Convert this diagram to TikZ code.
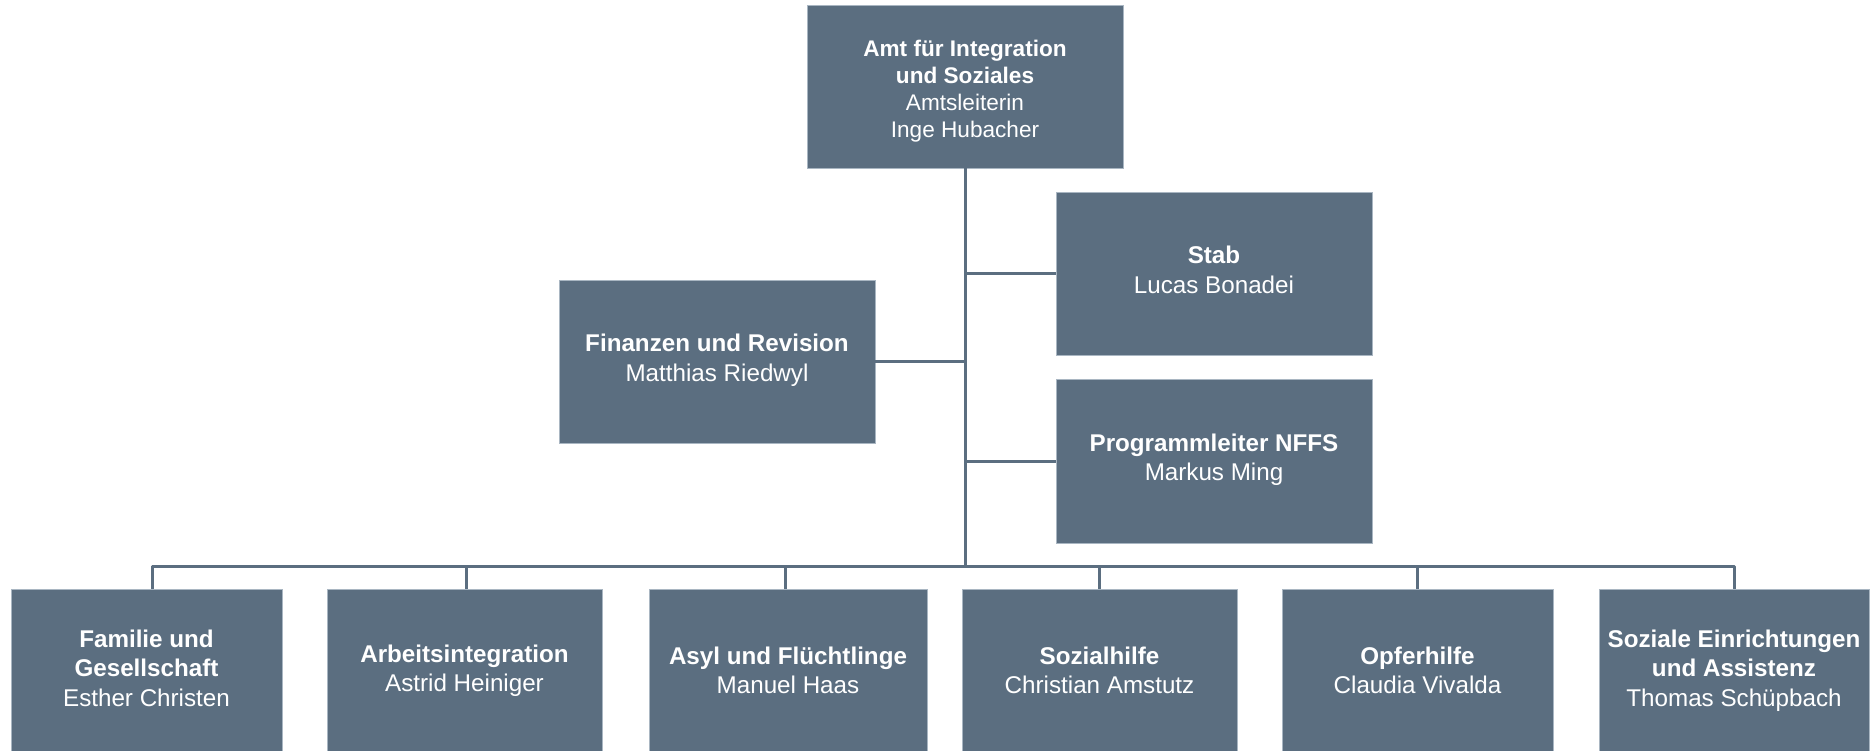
\documentclass[tikz,border=0pt]{standalone}
\usepackage{fontspec}
\setmainfont{Liberation Sans}
\usetikzlibrary{calc}
\definecolor{boxblue}{HTML}{5B6E80}
\definecolor{edgeblue}{HTML}{A9B6C2}
\begin{document}
\begin{tikzpicture}[x=1pt,y=-1pt,
  orgbox/.style={fill=boxblue, draw=edgeblue, line width=0.6pt, text=white,
    align=center, inner sep=0pt, minimum height=163pt,
    font=\fontsize{24.2}{29.5}\selectfont},
  toptext/.style={text=white, align=center, inner sep=0pt,
    font=\fontsize{22.6}{27}\selectfont},
  conn/.style={draw=boxblue, line width=3pt, line join=round}]
\fill[white] (0,0) rectangle (1874,750);
\useasboundingbox (0,0) rectangle (1874,750);
% top
\node[orgbox, minimum width=316pt] (top) at (965,86.5) {};
\node[toptext] (toplabel) at ($(top.center)+(0,4.8)$)
  {\textbf{Amt für Integration}\\\textbf{und Soziales}\\Amtsleiterin\\Inge Hubacher};
% staff
\node[orgbox, minimum width=316pt] (stab) at (1214,273.5) {\textbf{Stab}\\Lucas Bonadei\\[-22pt]\mbox{}};
\node[orgbox, minimum width=316pt] (fin) at (717,361.5) {\textbf{Finanzen und Revision}\\Matthias Riedwyl\\[-22pt]\mbox{}};
\node[orgbox, minimum width=316pt, minimum height=164pt] (prog) at (1214,461) {\textbf{Programmleiter NFFS}\\Markus Ming\\[-22pt]\mbox{}};
% bottom row
\node[orgbox, minimum width=271pt] (b1) at (146.5,670.5) {\textbf{Familie und}\\\textbf{Gesellschaft}\\Esther Christen\\[-24pt]\mbox{}};
\node[orgbox, minimum width=275pt] (b2) at (464.5,670.5) {\textbf{Arbeitsintegration}\\Astrid Heiniger};
\node[orgbox, minimum width=278pt] (b3) at (788,670.5) {\textbf{Asyl und Flüchtlinge}\\Manuel Haas};
\node[orgbox, minimum width=275pt] (b4) at (1099.5,670.5) {\textbf{Sozialhilfe}\\Christian Amstutz};
\node[orgbox, minimum width=271pt] (b5) at (1417.5,670.5) {\textbf{Opferhilfe}\\Claudia Vivalda};
\node[orgbox, minimum width=270pt] (b6) at (1734,670.5) {\textbf{Soziale Einrichtungen}\\\textbf{und Assistenz}\\Thomas Schüpbach};
% connectors
\coordinate (bus) at (965,566);
\draw[conn] (top.south) -- (bus);
\draw[conn] (stab.west) -- (stab.west -| top.south);
\draw[conn] (fin.east) -- (fin.east -| top.south);
\draw[conn] (prog.west) -- (prog.west -| top.south);
\draw[conn] ($(b1.north)+(5.5,0)$) |- (bus) -| (b6.north);
\draw[conn] ($(b2.north)+(1.5,0)$) -- ($(b2.north |- bus)+(1.5,0)$);
\draw[conn] ($(b3.north)+(-3,0)$) -- ($(b3.north |- bus)+(-3,0)$);
\foreach \b in {b4,b5}
  \draw[conn] (\b.north) -- (\b.north |- bus);
\end{tikzpicture}
\end{document}
